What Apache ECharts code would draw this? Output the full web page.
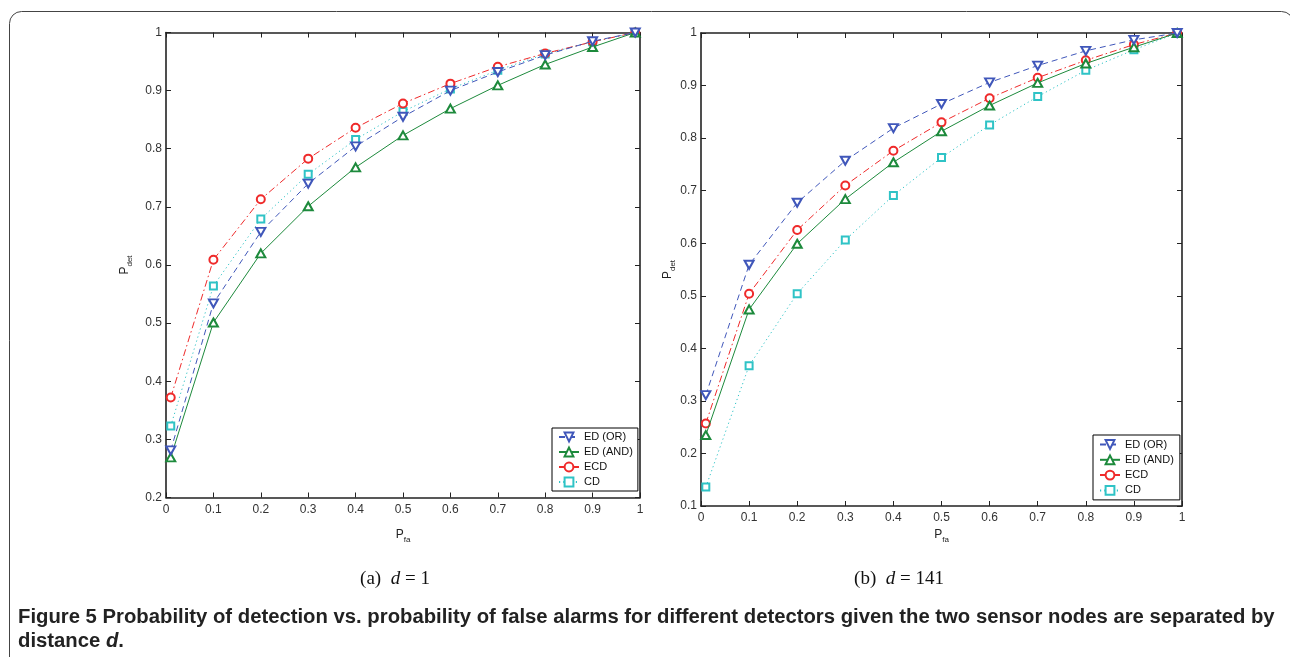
<!DOCTYPE html>
<html><head><meta charset="utf-8">
<script src="https://cdn.jsdelivr.net/npm/echarts@6/dist/echarts.min.js"></script>
<style>html,body{margin:0;padding:0;background:#fff}#c{width:1290px;height:657px}</style>
</head><body><div id="c"></div>
<script>
// ---- data ----
const pfa = [0.01, 0.1, 0.2, 0.3, 0.4, 0.5, 0.6, 0.7, 0.8, 0.9, 0.99];
const seriesNames = ['ED (OR)', 'ED (AND)', 'ECD', 'CD'];
// (a) d = 1
const d1_edOr  = [0.281, 0.534, 0.657, 0.740, 0.804, 0.855, 0.900, 0.932, 0.961, 0.985, 1.0];
const d1_edAnd = [0.269, 0.501, 0.620, 0.701, 0.768, 0.823, 0.869, 0.909, 0.945, 0.975, 1.0];
const d1_ecd   = [0.372, 0.609, 0.713, 0.783, 0.836, 0.878, 0.912, 0.941, 0.964, 0.984, 1.0];
const d1_cd    = [0.323, 0.564, 0.679, 0.756, 0.816, 0.864, 0.903, 0.935, 0.963, 0.984, 1.0];
// (b) d = 141
const d141_edOr  = [0.311, 0.559, 0.677, 0.757, 0.819, 0.865, 0.906, 0.938, 0.966, 0.987, 1.0];
const d141_edAnd = [0.235, 0.474, 0.599, 0.684, 0.754, 0.813, 0.862, 0.905, 0.942, 0.973, 1.0];
const d141_ecd   = [0.257, 0.504, 0.625, 0.710, 0.776, 0.830, 0.876, 0.915, 0.948, 0.978, 1.0];
const d141_cd    = [0.136, 0.367, 0.504, 0.606, 0.691, 0.763, 0.825, 0.879, 0.929, 0.968, 1.0];
const panelCaptions = ['(a)', '(b)'];
const panelD = ['1', '141'];
const figTitle1 = 'Probability of detection vs. probability of false alarms for different detectors given the two sensor nodes are separated by';
const figTitle2 = 'distance ';

// ---- styles ----
const FONT = '"Liberation Sans", Arial, Helvetica, sans-serif';
const styles = [
  {color: '#4057ba', type: [6, 4], symbol: 'emptyTriangle', rotate: 180, size: [9, 8]},
  {color: '#1d8a3c', type: 'solid', symbol: 'emptyTriangle', rotate: 0, size: [9, 8]},
  {color: '#ef2a2a', type: [7, 3, 1.5, 3], symbol: 'emptyCircle', rotate: 0, size: 8},
  {color: '#2fc3c6', type: [1.2, 3], symbol: 'emptyRect', rotate: 0, size: 7}
];
const grids = [
  {left: 166, top: 32.5, width: 474, height: 465},
  {left: 701, top: 33, width: 481, height: 473}
];
const yMins = [0.2, 0.1];
const nameGapsX = [31.5, 23];
const nameGapsY = [32, 24];
const panels = [[d1_edOr, d1_edAnd, d1_ecd, d1_cd], [d141_edOr, d141_edAnd, d141_ecd, d141_cd]];

const axisLineStyle = {color: '#222', width: 1.6};
const nameRich = () => ({
  rich: {
    p: {fontSize: 12, lineHeight: 12, verticalAlign: 'top', fontFamily: FONT, color: '#222'},
    s: {fontSize: 8, lineHeight: 15, verticalAlign: 'bottom', fontFamily: FONT, color: '#222'}
  }
});

const xAxes = [], yAxes = [], series = [], legends = [];
grids.forEach((g, gi) => {
  const base = {
    type: 'value', gridIndex: gi, min: 0, max: 1, interval: 0.1,
    axisLine: {show: true, onZero: false, lineStyle: axisLineStyle},
    axisTick: {show: true, inside: true, length: 5, lineStyle: {color: '#222', width: 1}},
    splitLine: {show: false}
  };
  xAxes.push(Object.assign({}, base, {
    position: 'bottom',
    axisLabel: {show: true, margin: 6, fontSize: 12, color: '#333', fontFamily: FONT, showMinLabel: true, showMaxLabel: true},
    name: '{p|P}{s|fa}', nameLocation: 'middle', nameGap: nameGapsX[gi], nameTextStyle: nameRich()
  }));
  xAxes.push(Object.assign({}, base, {position: 'top', axisLabel: {show: false}}));
  const ybase = Object.assign({}, base, {min: yMins[gi], max: 1});
  yAxes.push(Object.assign({}, ybase, {
    position: 'left',
    axisLabel: {show: true, margin: 4, fontSize: 12, color: '#333', fontFamily: FONT, showMinLabel: true, showMaxLabel: true},
    name: '{p|P}{s|det}', nameLocation: 'middle', nameRotate: 90, nameGap: nameGapsY[gi], nameTextStyle: nameRich()
  }));
  yAxes.push(Object.assign({}, ybase, {position: 'right', axisLabel: {show: false}}));

  panels[gi].forEach((vals, si) => {
    const st = styles[si];
    series.push({
      type: 'line', name: seriesNames[si],
      xAxisIndex: gi * 2, yAxisIndex: gi * 2,
      data: pfa.map((x, i) => [x, vals[i]]),
      symbol: st.symbol, symbolSize: st.size, symbolRotate: st.rotate,
      showAllSymbol: true, animation: false, silent: true,
      lineStyle: {color: st.color, width: 1, type: st.type},
      itemStyle: {color: st.color, borderWidth: 0.9},
      z: 10 - si
    });
  });
});

legends.push({
  left: 552, top: 428, orient: 'vertical', data: seriesNames,
  itemWidth: 20, itemHeight: 11, itemGap: 4, padding: [3.5, 5, 3.5, 6],
  borderColor: '#000', borderWidth: 1, backgroundColor: '#fff', borderRadius: 0,
  selectedMode: false, textStyle: {fontSize: 11, color: '#111', fontFamily: FONT}
});
legends.push({
  left: 1093, top: 435, orient: 'vertical', data: seriesNames,
  itemWidth: 20, itemHeight: 11, itemGap: 4.3, padding: [4, 6, 4, 6],
  borderColor: '#000', borderWidth: 1, backgroundColor: '#fff', borderRadius: 0,
  selectedMode: false, textStyle: {fontSize: 11, color: '#111', fontFamily: FONT}
});

const SERIF = '"Liberation Serif", "DejaVu Serif", serif';
const CAP = '"Liberation Sans Narrow", "Liberation Sans", Arial, sans-serif';
const CAPSIZE = 20.3;
const capCenters = [395, 899];
const graphics = [
  {type: 'rect', shape: {x: 9.5, y: 11.5, width: 1284, height: 720, r: 12},
   style: {fill: 'none', stroke: '#444', lineWidth: 1}, silent: true, z: 0}
];
capCenters.forEach((cx, i) => {
  graphics.push({
    type: 'text', x: cx, y: 579,
    style: {
      text: panelCaptions[i] + '  {i|d} = ' + panelD[i],
      font: '19px ' + SERIF, fill: '#111', align: 'center', verticalAlign: 'middle',
      rich: {i: {fontStyle: 'italic', fontSize: 19, fontFamily: SERIF, fill: '#111'}}
    }
  });
});
graphics.push({
  type: 'text', x: 18, y: 617,
  style: {text: '{b|Figure 5} ' + figTitle1, font: 'bold ' + CAPSIZE + 'px ' + CAP, fill: '#222', verticalAlign: 'middle',
          rich: {b: {fontWeight: 'bold', fontSize: CAPSIZE, fontFamily: CAP, fill: '#222'}}}
});
graphics.push({
  type: 'text', x: 18, y: 641,
  style: {text: figTitle2 + '{i|d}.', font: 'bold ' + CAPSIZE + 'px ' + CAP, fill: '#222', verticalAlign: 'middle',
          rich: {i: {fontWeight: 'bold', fontStyle: 'italic', fontSize: CAPSIZE, fontFamily: CAP, fill: '#222'}}}
});

const chart = echarts.init(document.getElementById('c'), null, {renderer: 'canvas'});
chart.setOption({
  backgroundColor: '#fff',
  animation: false,
  grid: grids,
  xAxis: xAxes,
  yAxis: yAxes,
  legend: legends,
  series: series,
  graphic: graphics
});
</script>
</body></html>
